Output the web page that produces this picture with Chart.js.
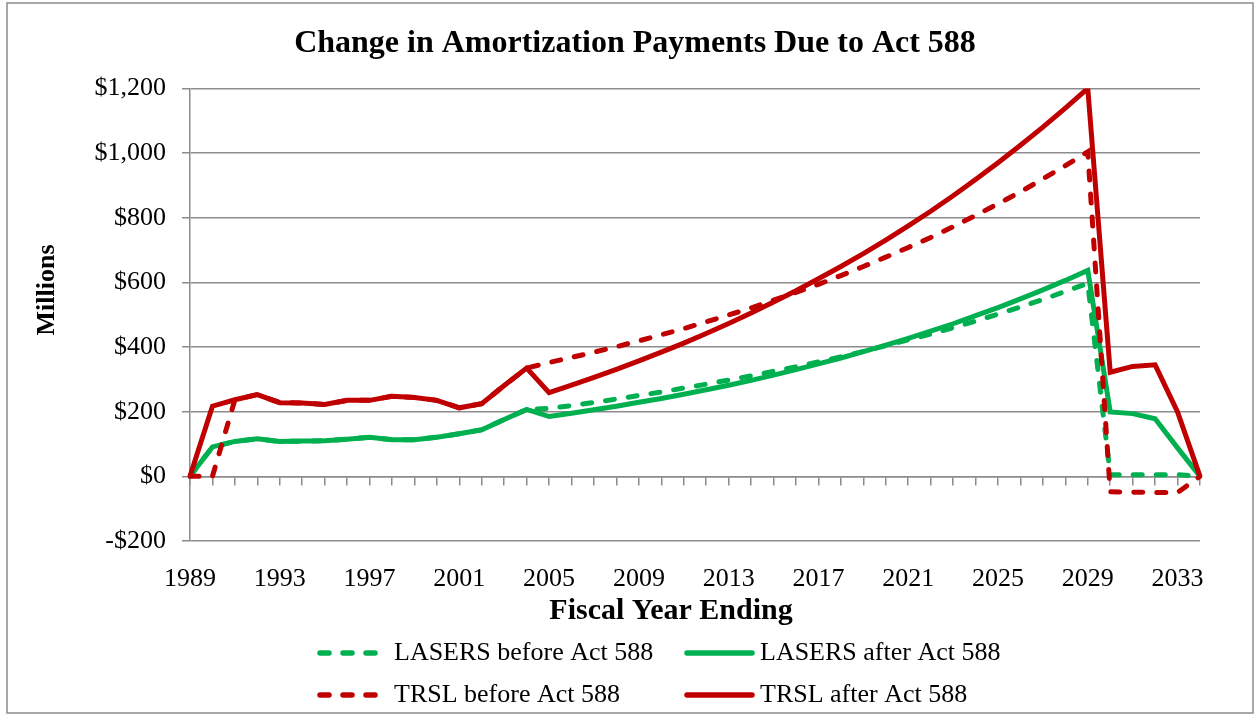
<!DOCTYPE html>
<html>
<head>
<meta charset="utf-8">
<script src="https://cdn.jsdelivr.net/npm/chart.js@4"></script>
<style>
  html, body { margin: 0; padding: 0; background: #fff; }
  #wrap { width: 1260px; height: 717px; position: relative; }
</style>
</head>
<body>
<div id="wrap"><canvas id="myChart"></canvas></div>
<script>
// fiscal years on the x axis
const years = [1989, 1990, 1991, 1992, 1993, 1994, 1995, 1996, 1997, 1998, 1999, 2000,
    2001, 2002, 2003, 2004, 2005, 2006, 2007, 2008, 2009, 2010, 2011, 2012, 2013, 2014,
    2015, 2016, 2017, 2018, 2019, 2020, 2021, 2022, 2023, 2024, 2025, 2026, 2027, 2028,
    2029, 2030, 2031, 2032, 2033, 2034];

// amortization payments, $ millions
const lasersBefore = [0, 91, 108, 116, 108, 109, 110, 115, 121, 113, 113, 121, 132, 144, 176, 207,
    210, 219, 229, 239, 250, 261, 273, 285, 298, 311, 325, 339, 354, 370, 386, 404, 422, 440,
    460, 480, 502, 524, 547, 572, 597, 5, 5, 5, 5, 0];
const lasersAfter = [0, 91, 108, 116, 108, 109, 110, 115, 121, 113, 113, 121, 132, 144, 176, 207,
    185, 195, 206, 217, 229, 241, 254, 268, 282, 297, 313, 330, 348, 366, 386, 406, 427, 449,
    472, 497, 522, 549, 577, 606, 637, 199, 194, 178, 88, 0];
const trslBefore = [0, 0, 237, 253, 228, 227, 222, 235, 235, 248, 244, 235, 212, 225, 281, 335,
    352, 368, 384, 401, 419, 438, 457, 478, 499, 521, 545, 569, 594, 621, 649, 678, 708, 739,
    772, 807, 843, 880, 920, 961, 1004, -48, -49, -50, -50, 0];
const trslAfter = [0, 217, 237, 253, 228, 227, 222, 235, 235, 248, 244, 235, 212, 225, 281, 335,
    259, 282, 306, 331, 357, 384, 412, 442, 473, 505, 539, 574, 611, 649, 689, 731, 775, 820,
    868, 918, 970, 1024, 1080, 1139, 1200, 322, 340, 345, 199, 0];

const yTicks = [-200, 0, 200, 400, 600, 800, 1000, 1200];

const GREEN = '#00B050';
const RED = '#C00000';
const GRID = '#8c8c8c';
const SERIF = '"Liberation Serif", "Times New Roman", serif';

Chart.defaults.font.family = SERIF;
Chart.defaults.color = '#000';

// white background, outer frame, axis titles and the two-column legend
const frameAndLegend = {
    id: 'frameAndLegend',
    beforeDraw(chart) {
        const ctx = chart.ctx;
        ctx.save();
        ctx.fillStyle = '#fff';
        ctx.fillRect(0, 0, chart.width, chart.height);
        ctx.strokeStyle = GRID;
        ctx.lineWidth = 1.5;
        ctx.strokeRect(7, 3, 1246, 710);
        ctx.restore();
    },
    afterDraw(chart) {
        const ctx = chart.ctx;
        ctx.save();
        ctx.fillStyle = '#000';
        ctx.textAlign = 'center';
        ctx.textBaseline = 'middle';
        ctx.font = 'bold 30px ' + SERIF;
        ctx.fillText('Fiscal Year Ending', 671, 611);
        ctx.font = 'bold 26px ' + SERIF;
        ctx.translate(47, 290);
        ctx.rotate(-Math.PI / 2);
        ctx.fillText('Millions', 0, 0);
        ctx.restore();

        const slots = [[317, 380, 394, 653], [684, 755, 760, 653], [317, 380, 394, 695], [684, 755, 760, 695]];
        chart.data.datasets.forEach((ds, i) => {
            const [x1, x2, tx, y] = slots[i];
            ctx.save();
            ctx.strokeStyle = ds.borderColor;
            ctx.lineWidth = 5.5;
            ctx.lineCap = 'round';
            ctx.setLineDash(ds.borderDash || []);
            ctx.beginPath();
            ctx.moveTo(x1 + 3, y);
            ctx.lineTo(x2 - 3, y);
            ctx.stroke();
            ctx.setLineDash([]);
            ctx.font = '26px ' + SERIF;
            ctx.fillStyle = '#000';
            ctx.textBaseline = 'middle';
            ctx.fillText(ds.label, tx, y);
            ctx.restore();
        });
    }
};

const ctx = document.getElementById('myChart').getContext('2d');
const lineBase = { pointRadius: 0, pointHoverRadius: 0, borderWidth: 5, tension: 0, xAxisID: 'x', yAxisID: 'y' };

new Chart(ctx, {
    type: 'line',
    data: {
        labels: years.map(String),
        datasets: [
            { ...lineBase, label: 'LASERS before Act 588', data: lasersBefore, borderColor: GREEN, backgroundColor: GREEN, borderDash: [9, 14], borderCapStyle: 'round', order: 4 },
            { ...lineBase, label: 'LASERS after Act 588', data: lasersAfter, borderColor: GREEN, backgroundColor: GREEN, order: 3 },
            { ...lineBase, label: 'TRSL before Act 588', data: trslBefore, borderColor: RED, backgroundColor: RED, borderDash: [9, 14], borderCapStyle: 'round', order: 2 },
            { ...lineBase, label: 'TRSL after Act 588', data: trslAfter, borderColor: RED, backgroundColor: RED, order: 1 }
        ]
    },
    options: {
        responsive: true,
        maintainAspectRatio: false,
        animation: false,
        layout: { padding: { left: 70, right: 60, top: 0, bottom: 86 } },
        plugins: {
            legend: { display: false },
            tooltip: { enabled: false },
            title: {
                display: true,
                text: 'Change in Amortization Payments Due to Act 588',
                font: { size: 32, weight: 'bold' },
                color: '#000',
                padding: { top: 25, bottom: 25 }
            }
        },
        scales: {
            // axis line with year tick marks, crossing at $0
            x: {
                type: 'category',
                position: { y: 0 },
                offset: false,
                grid: { drawOnChartArea: false, drawTicks: true, tickLength: 8, color: GRID, lineWidth: 1.5 },
                border: { display: true, color: GRID, width: 1.5 },
                ticks: { display: false }
            },
            // year labels below the plot
            x2: {
                type: 'category',
                position: 'bottom',
                offset: false,
                grid: { display: false },
                border: { display: false },
                ticks: {
                    autoSkip: false,
                    maxRotation: 0,
                    padding: 15,
                    font: { size: 26 },
                    callback: function (val, i) { return i % 4 === 0 ? this.getLabelForValue(val) : ''; }
                },
                afterFit: (s) => { s.height = 90; }
            },
            y: {
                min: yTicks[0],
                max: yTicks[yTicks.length - 1],
                afterBuildTicks: (s) => { s.ticks = yTicks.map(v => ({ value: v })); },
                grid: { color: GRID, lineWidth: 1.5, tickLength: 8, drawTicks: true },
                border: { display: true, color: GRID, width: 1.5 },
                ticks: {
                    padding: 16,
                    font: { size: 26 },
                    callback: (v) => (v < 0 ? '-$' : '$') + Math.abs(v).toLocaleString('en-US')
                },
                afterFit: (s) => { s.width = 120; }
            }
        }
    },
    plugins: [frameAndLegend]
});
</script>
</body>
</html>
